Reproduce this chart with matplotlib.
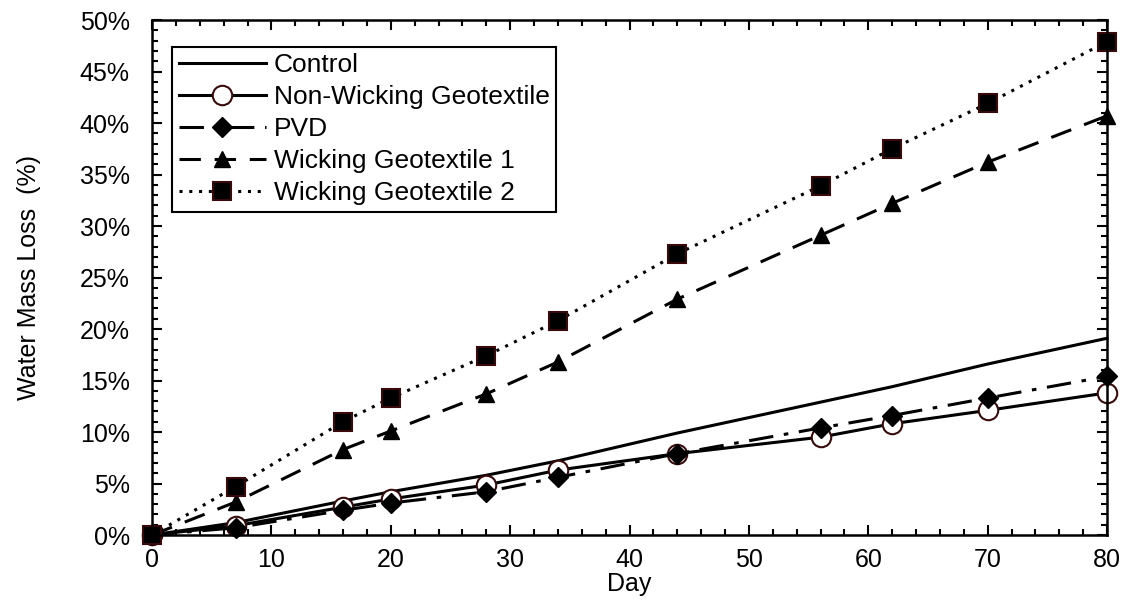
import numpy as np
import matplotlib.pyplot as plt
from matplotlib.ticker import MultipleLocator, PercentFormatter

plt.rcParams['font.family'] = ['Liberation Sans', 'DejaVu Sans']

# 測定日
day = [0, 7, 16, 20, 28, 34, 44, 56, 62, 70, 80]

# 水分損失 (%)
control = [0, 1.2, 3.3, 4.2, 5.8, 7.2, 9.9, 12.9, 14.4, 16.6, 19.1]
non_wicking = [0, 0.9, 2.7, 3.5, 4.85, 6.3, 7.9, 9.5, 10.8, 12.1, 13.8]
pvd = [0, 0.7, 2.4, 3.1, 4.2, 5.6, 7.9, 10.4, 11.6, 13.3, 15.4]
wicking_1 = [0, 3.2, 8.3, 10.1, 13.7, 16.8, 22.9, 29.1, 32.2, 36.2, 40.7]
wicking_2 = [0, 4.7, 11.0, 13.3, 17.4, 20.8, 27.3, 33.9, 37.5, 41.9, 47.9]

edge = '#3a0a0a'

fig = plt.figure(figsize=(11.28, 6.05), dpi=100)
ax = fig.add_axes([0.1348, 0.1157, 0.8466, 0.8512])

ax.plot(day, control, '-', color='black', lw=2.2, label='Control', clip_on=False)
ax.plot(day, non_wicking, '-', color='black', lw=2.2, marker='o', ms=14,
        mfc='white', mec=edge, mew=1.5, label='Non-Wicking Geotextile', clip_on=False)
ax.plot(day, pvd, color='black', lw=2.2, dashes=(8, 3.5, 1.5, 3.5), marker='D', ms=10,
        mfc='black', mec='black', label='PVD', clip_on=False)
ax.plot(day, wicking_1, color='black', lw=2.2, dashes=(7, 4.5), marker='^', ms=12,
        mfc='black', mec='black', label='Wicking Geotextile 1', clip_on=False)
ax.plot(day, wicking_2, color='black', lw=2.2, dashes=(1, 2.2), marker='s', ms=13,
        mfc='black', mec=edge, mew=1.5, label='Wicking Geotextile 2', clip_on=False)

# 軸範囲
ax.set_xlim(0, 80)
ax.set_ylim(0, 50)

ax.xaxis.set_major_locator(MultipleLocator(10))
ax.xaxis.set_minor_locator(MultipleLocator(2))
ax.yaxis.set_major_locator(MultipleLocator(5))
ax.yaxis.set_minor_locator(MultipleLocator(1))
ax.yaxis.set_major_formatter(PercentFormatter(100, decimals=0))

ax.tick_params(which='both', direction='in', top=True, right=True, width=1.5)
ax.tick_params(which='major', length=7, labelsize=18)
ax.tick_params(which='minor', length=4)
ax.tick_params(axis='x', pad=9)
ax.tick_params(axis='y', pad=16)
for s in ax.spines.values():
    s.set_linewidth(1.8)

# 軸ラベル
ax.set_xlabel('Day', fontsize=18, labelpad=0)
ax.set_ylabel('Water Mass Loss  (%)', fontsize=18, labelpad=28)

leg = ax.legend(loc='upper left', bbox_to_anchor=(0.021, 0.948), fontsize=19,
                frameon=True, fancybox=False, edgecolor='black', framealpha=1,
                handlelength=3.3, handletextpad=0.3, labelspacing=0.3,
                borderpad=0.25, borderaxespad=0)
leg.get_frame().set_linewidth(1.5)

fig.savefig('out.png', dpi=100)
